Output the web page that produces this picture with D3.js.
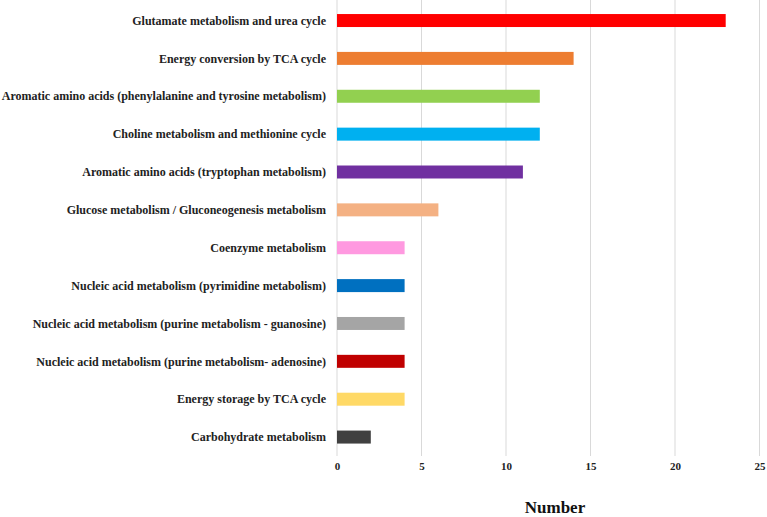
<!DOCTYPE html>
<html><head><meta charset="utf-8">
<script src="https://cdn.jsdelivr.net/npm/d3@7"></script>
<style>body{margin:0;background:#fff}svg{display:block}</style>
</head><body>
<script>
const categories = [
 "Glutamate metabolism and urea cycle",
 "Energy conversion by TCA cycle",
 "Aromatic amino acids (phenylalanine and tyrosine metabolism)",
 "Choline metabolism and methionine cycle",
 "Aromatic amino acids (tryptophan metabolism)",
 "Glucose metabolism / Gluconeogenesis metabolism",
 "Coenzyme metabolism",
 "Nucleic acid metabolism (pyrimidine metabolism)",
 "Nucleic acid metabolism (purine metabolism - guanosine)",
 "Nucleic acid metabolism (purine metabolism- adenosine)",
 "Energy storage by TCA cycle",
 "Carbohydrate metabolism"
];
const values = [23, 14, 12, 12, 11, 6, 4, 4, 4, 4, 4, 2];
const colors = ["#ff0000","#ed7d31","#92d050","#00b0f0","#7030a0","#f4b183","#ff99e0","#0070c0","#a5a5a5","#c00000","#ffd966","#404040"];
const xTicks = [0, 5, 10, 15, 20, 25];
const xTitle = "Number";

const W = 767, H = 517;
const svg = d3.select("body").append("svg").attr("width", W).attr("height", H);
const x = d3.scaleLinear().domain([0, 25]).range([337, 759.5]);
const y = d3.scaleBand().domain(categories).range([1.6, 456]).paddingInner(0.657).paddingOuter(0.3285);

const font = "'Liberation Serif','Times New Roman',serif";

// gridlines
svg.append("g").selectAll("line").data(xTicks).join("line")
  .attr("x1", d => x(d)).attr("x2", d => x(d))
  .attr("y1", 0).attr("y2", 456)
  .attr("stroke", "#d9d9d9").attr("stroke-width", 1);

// bars
svg.append("g").selectAll("rect").data(values).join("rect")
  .attr("x", x(0))
  .attr("y", (d, i) => y(categories[i]))
  .attr("width", d => x(d) - x(0))
  .attr("height", y.bandwidth())
  .attr("fill", (d, i) => colors[i]);

// category labels
svg.append("g").selectAll("text").data(categories).join("text")
  .attr("x", 326)
  .attr("y", d => y(d) + y.bandwidth() / 2)
  .attr("dy", "0.35em")
  .attr("text-anchor", "end")
  .attr("font-family", font).attr("font-weight", "bold").attr("font-size", 12)
  .attr("fill", "#222")
  .text(d => d);

// x axis tick labels
const ax = d3.axisBottom(x).tickValues(xTicks).tickSize(0).tickPadding(0);
const g = svg.append("g").attr("transform", "translate(0,462)").call(ax);
g.select(".domain").remove();
g.selectAll("text").attr("font-family", font).attr("font-weight", "bold").attr("font-size", 11).attr("fill", "#222");

svg.append("text").attr("x", 555).attr("y", 513)
  .attr("text-anchor", "middle")
  .attr("font-family", font).attr("font-weight", "bold").attr("font-size", 17)
  .attr("fill", "#111").text(xTitle);
</script>
</body></html>
